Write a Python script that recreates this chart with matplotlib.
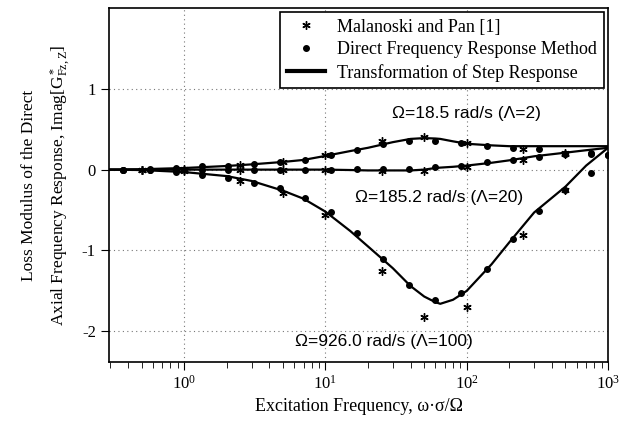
import matplotlib
matplotlib.use("Agg")
import matplotlib.pyplot as plt
import numpy as np

plt.rcParams['font.family'] = ['Liberation Serif', 'DejaVu Serif']
plt.rcParams['mathtext.fontset'] = 'custom'
plt.rcParams['mathtext.rm'] = 'Liberation Serif'
plt.rcParams['mathtext.it'] = 'Liberation Serif:italic'
plt.rcParams['axes.unicode_minus'] = False

# transformation of step response (solid curves)
curve_x = [0.3, 0.5, 1, 2, 3, 5, 7, 10, 15, 20, 30, 40, 50, 60, 65, 80, 100,
           150, 200, 300, 500, 700, 1000]
curve_l2 = [0, 0.005, 0.02, 0.045, 0.065, 0.095, 0.12, 0.17, 0.23, 0.27, 0.34,
            0.38, 0.39, 0.385, 0.38, 0.35, 0.32, 0.30, 0.29, 0.29, 0.29, 0.29, 0.29]
curve_l20 = [0, 0, 0, 0, 0, 0, 0, 0, -0.005, -0.01, -0.01, -0.01, 0, 0.02, 0.025,
             0.035, 0.05, 0.085, 0.115, 0.165, 0.21, 0.24, 0.27]
curve_l100 = [0, -0.005, -0.03, -0.08, -0.14, -0.26, -0.36, -0.52, -0.76, -0.95,
              -1.22, -1.44, -1.57, -1.64, -1.66, -1.61, -1.50, -1.17, -0.90,
              -0.53, -0.21, 0.05, 0.27]

# direct frequency response method (dots)
dot_x = [0.37, 0.57, 0.88, 1.34, 2.05, 3.1, 4.8, 7.2, 11, 16.7, 25.6, 39, 60,
         91, 139, 211, 323, 495, 760, 1000]
dot_l2 = [0, 0.003, 0.02, 0.04, 0.05, 0.07, 0.09, 0.12, 0.185, 0.24, 0.32, 0.36,
          0.36, 0.33, 0.29, 0.27, 0.25, 0.19, 0.2, 0.18]
dot_l20 = [0, 0, 0, 0, 0, 0, 0, 0, 0, 0.005, 0.005, 0.005, 0.03, 0.05, 0.09,
           0.12, 0.16, 0.19, 0.19, 0.18]
dot_l100 = [0, -0.005, -0.035, -0.07, -0.10, -0.16, -0.23, -0.35, -0.53, -0.79,
            -1.11, -1.43, -1.61, -1.53, -1.23, -0.86, -0.51, -0.25, -0.04, 0.18]

# Malanoski and Pan (stars)
star_x = [0.5, 1, 2.5, 5, 10, 25, 50, 100, 250, 500]
star_l2 = [0, 0.005, 0.06, 0.095, 0.185, 0.35, 0.40, 0.33, 0.26, 0.2]
star_l20 = [0, 0, 0, 0, 0, -0.02, -0.02, 0.03, 0.12, 0.19]
star_l100 = [0, -0.02, -0.14, -0.29, -0.56, -1.26, -1.82, -1.70, -0.81, -0.25]

fig = plt.figure(figsize=(6.28, 4.29), dpi=100)
ax = fig.add_axes([0.1736, 0.1562, 0.7946, 0.8252])

star = (6, 2, 0)
for cy in (curve_l2, curve_l20, curve_l100):
    ax.plot(curve_x, cy, color='black', lw=1.6, zorder=2)
for dy in (dot_l2, dot_l20, dot_l100):
    ax.plot(dot_x, dy, 'o', color='black', ms=4, zorder=3)
for sy in (star_l2, star_l20, star_l100):
    ax.plot(star_x, sy, ls='none', marker=star, color='black', ms=6,
            mew=1.0, zorder=3)

ax.set_xscale('log')
ax.set_xlim(0.294, 1000)
ax.set_ylim(-2.38, 2.0)
ax.set_yticks([-2, -1, 0, 1])
ax.set_yticklabels(['-2', '-1', '0', '1'])
ax.grid(True, which='major', ls=(0, (1, 3)), color='#777777', lw=0.8)
ax.tick_params(which='major', direction='out', length=6, labelsize=12)
ax.tick_params(which='minor', direction='out', length=4)
for s in ax.spines.values():
    s.set_linewidth(1.2)

ax.set_xlabel('Excitation Frequency, ω·σ/Ω', fontsize=13, labelpad=3.5)
ax.set_ylabel('Loss Modulus of the Direct\n'
              r'Axial Frequency Response, Imag[G$^*_{\rm Fz,Z}$]',
              fontsize=12.5, labelpad=6, linespacing=1.75)

sans = ['Liberation Sans', 'DejaVu Sans']
ax.text(100, 0.70, 'Ω=18.5 rad/s (Λ=2)', family=sans, fontsize=12.5,
        ha='center', va='center')
ax.text(64, -0.34, 'Ω=185.2 rad/s (Λ=20)', family=sans, fontsize=12.5,
        ha='center', va='center')
ax.text(26, -2.13, 'Ω=926.0 rad/s (Λ=100)', family=sans, fontsize=12.5,
        ha='center', va='center')

h1, = ax.plot([], [], ls='none', marker=star, color='black', ms=6, mew=1.0)
h2, = ax.plot([], [], 'o', color='black', ms=4)
h3, = ax.plot([], [], color='black', lw=3)
leg = ax.legend([h1, h2, h3],
                ['Malanoski and Pan [1]', 'Direct Frequency Response Method',
                 'Transformation of Step Response'],
                loc='upper right', borderaxespad=0.25, fontsize=13,
                fancybox=False, framealpha=1, edgecolor='black',
                handlelength=2.1, handletextpad=0.7, labelspacing=0.3,
                borderpad=0.35)
leg.get_frame().set_linewidth(1.2)

fig.savefig('out.png', dpi=100)
